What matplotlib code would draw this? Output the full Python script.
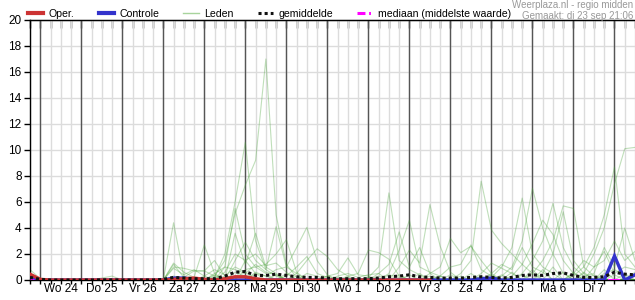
import numpy as np
import matplotlib
matplotlib.use("Agg")
import matplotlib.pyplot as plt
from matplotlib.lines import Line2D

plt.rcParams['font.family'] = ['Liberation Sans', 'DejaVu Sans']

# ----------------------
# Data: 6-hourly steps, starting di 23 sep 18:00 (index 0) up to wo 8 okt 12:00 (index 59)
# ----------------------
n_steps = 60
dagen = ["Wo 24", "Do 25", "Vr 26", "Za 27", "Zo 28", "Ma 29", "Di 30",
         "Wo 1", "Do 2", "Vr 3", "Za 4", "Zo 5", "Ma 6", "Di 7", ""]

# operationele run (stops after index 39)
oper = [0.45, 0.05, 0, 0, 0, 0, 0, 0, 0, 0, 0, 0, 0, 0, 0.05, 0.1, 0.15, 0.05, 0, 0.1,
        0.25, 0.25, 0.1, 0, 0, 0, 0, 0, 0, 0, 0, 0, 0, 0, 0, 0, 0, 0, 0, 0]

# controle run (sparse: index -> value)
controle = {0: 0.3, 14: 0.15, 15: 0.15, 16: 0.05, 44: 0.1, 45: 0.15, 57: 1.85, 59: 0.4}

# mediaan
mediaan = [0.0] * n_steps

# gemiddelde (ensemble mean)
gemiddelde = [0.2, 0.05, 0, 0, 0, 0, 0, 0.01, 0.01, 0, 0, 0, 0, 0.05, 0.2, 0.15, 0.1, 0.1, 0.1, 0.3,
              0.6, 0.65, 0.35, 0.35, 0.45, 0.35, 0.25, 0.2, 0.2, 0.15, 0.1, 0.1, 0.1, 0.1, 0.15, 0.25, 0.3, 0.4, 0.25, 0.2,
              0.15, 0.15, 0.15, 0.2, 0.25, 0.2, 0.15, 0.2, 0.35, 0.4, 0.35, 0.5, 0.55, 0.35, 0.2, 0.2, 0.25, 0.6, 0.45, 0.4]

# ensemble leden (sparse: index -> value, zero elsewhere)
leden = [
    {0: 0.8, 1: 0.1},
    {0: 0.5, 1: 0.05},
    {0: 0.35},
    {0: 0.25, 7: 0.15, 8: 0.3},
    {11: 0.05, 14: 0.3, 15: 0.1},
    {14: 4.4, 15: 0.3},
    {14: 1.3, 15: 0.6, 16: 0.2},
    {14: 1.2, 15: 0.2},
    {14: 1.0, 15: 0.9, 16: 0.7, 17: 0.7, 18: 0.3},
    {14: 0.9, 15: 0.4, 16: 0.8, 17: 0.3},
    {16: 0.2, 17: 2.7, 18: 0.5},
    {15: 0.2, 16: 0.7, 17: 0.7, 18: 1.5, 19: 0.3},
    {18: 0.2, 19: 2.0, 20: 6.0, 21: 10.6, 22: 3.0, 23: 0.8, 24: 0.3},
    {18: 0.3, 19: 1.5, 20: 5.1, 21: 7.3, 22: 9.2, 23: 17.0, 24: 5.0, 25: 1.2, 26: 0.2},
    {19: 1.0, 20: 5.5, 21: 2.0, 22: 1.0, 23: 0.5},
    {20: 3.6, 21: 1.2, 22: 3.6, 23: 1.0, 24: 0.5},
    {20: 1.5, 21: 2.9, 22: 1.5, 23: 0.8, 24: 4.1, 25: 1.0, 26: 0.5},
    {21: 0.8, 22: 1.0, 23: 1.2, 24: 2.0, 25: 3.1, 26: 0.6},
    {22: 0.5, 23: 0.3, 24: 0.8, 25: 1.0, 26: 2.5, 27: 4.05, 28: 1.5, 29: 0.4},
    {26: 0.5, 27: 1.5, 28: 2.4, 29: 1.8, 30: 0.8, 31: 0.3},
    {19: 0.6, 20: 2.0, 21: 1.5, 22: 2.0, 23: 1.1, 24: 1.3, 25: 0.6},
    {18: 0.5, 19: 1.0, 20: 0.8, 21: 0.5, 22: 1.2, 23: 0.6, 24: 0.4},
    {25: 0.3, 26: 1.0, 27: 1.8, 28: 0.5, 29: 0.2},
    {29: 0.3, 30: 0.5, 31: 1.7, 32: 0.4, 33: 0.3},
    {31: 0.3, 32: 0.5, 33: 2.3, 34: 2.1, 35: 1.6, 36: 0.3},
    {30: 0.3, 31: 0.5, 32: 0.2, 33: 0.4, 34: 0.5},
    {33: 0.2, 34: 1.0, 35: 6.7, 36: 1.5, 37: 0.8, 38: 0.4},
    {34: 0.5, 35: 1.2, 36: 3.7, 37: 1.0, 38: 2.5, 39: 0.5},
    {35: 0.5, 36: 2.3, 37: 4.6, 38: 1.0, 39: 0.6, 40: 0.3},
    {36: 1.0, 37: 2.3, 38: 1.3, 39: 5.8, 40: 2.6, 41: 0.6},
    {39: 0.5, 40: 1.0, 41: 3.2, 42: 2.1, 43: 2.6, 44: 1.5, 45: 0.5},
    {40: 0.3, 41: 1.0, 42: 1.2, 43: 2.7, 44: 0.8, 45: 0.3},
    {42: 0.5, 43: 1.5, 44: 7.6, 45: 3.85, 46: 2.8, 47: 2.0, 48: 1.2, 49: 0.5},
    {44: 0.5, 45: 1.3, 46: 0.9, 47: 0.5},
    {45: 0.2, 46: 1.0, 47: 2.5, 48: 6.3, 49: 2.0, 50: 1.0, 51: 0.5},
    {46: 0.3, 47: 1.0, 48: 3.0, 49: 7.05, 50: 4.0, 51: 2.0, 52: 0.5},
    {47: 0.3, 48: 1.2, 49: 2.8, 50: 4.6, 51: 3.5, 52: 1.5, 53: 0.5},
    {48: 0.5, 49: 1.5, 50: 3.0, 51: 5.9, 52: 2.5, 53: 1.0, 54: 0.3},
    {49: 0.5, 50: 1.5, 51: 3.0, 52: 5.7, 53: 5.5, 54: 1.0, 55: 0.3},
    {50: 0.5, 51: 2.0, 52: 5.25, 53: 1.5, 54: 0.5},
    {45: 0.5, 46: 1.2, 47: 0.8, 48: 2.5, 49: 1.0, 50: 0.6},
    {53: 0.3, 54: 1.0, 55: 2.5, 56: 5.0, 57: 8.7, 58: 2.0, 59: 1.0},
    {54: 0.5, 55: 2.0, 56: 4.0, 57: 7.4, 58: 10.1, 59: 10.2},
    {54: 0.3, 55: 0.5, 56: 2.5, 57: 1.0, 58: 4.0, 59: 1.5},
    {55: 1.0, 56: 1.5, 57: 3.0, 58: 1.5, 59: 2.2},
    {53: 0.5, 54: 1.5, 55: 1.0, 56: 2.2, 57: 0.5, 58: 1.0, 59: 0.8},
    {17: 0.3, 18: 0.8, 19: 0.4, 22: 0.6, 23: 0.3, 27: 0.5, 28: 0.3, 35: 0.4, 36: 0.2,
     44: 0.3, 48: 0.4, 52: 0.6, 56: 0.5, 57: 0.8, 58: 0.3},
    {20: 0.6, 21: 0.3, 25: 0.5, 30: 0.2, 34: 0.3, 38: 0.5, 41: 0.4, 46: 0.4, 50: 0.8,
     54: 0.6, 57: 0.4, 59: 0.6},
    {19: 0.3, 20: 1.0, 21: 0.6, 24: 0.4, 29: 0.3, 33: 0.2, 37: 0.4, 40: 0.3, 43: 0.5,
     47: 0.6, 51: 1.0, 55: 0.4, 58: 0.5},
    {18: 0.4, 21: 1.5, 22: 0.5, 26: 0.3, 31: 0.2, 36: 0.4, 39: 0.3, 42: 0.3, 45: 0.4,
     49: 0.8, 53: 0.6, 56: 0.8, 59: 0.3},
]


def uitpakken(sparse):
    reeks = np.zeros(n_steps)
    for i, v in sparse.items():
        reeks[i] = v
    return reeks


t = np.arange(n_steps)

# ----------------------
# Figure
# ----------------------
fig = plt.figure(figsize=(6.35, 3.0), dpi=100)
ax = fig.add_axes([30 / 635, 20 / 300, 605 / 635, 260 / 300])

ax.set_xlim(0, n_steps - 1)
ax.set_ylim(0, 20)

# grid: light every 6 hours and every 2 mm, dark at midnight
ax.set_xticks(t)
ax.set_yticks(np.arange(0, 21, 2))
ax.grid(True, axis='both', color='#dcdcdc', linewidth=1.0, zorder=0)
ax.set_axisbelow(True)
middernacht = [1 + 4 * d for d in range(len(dagen))]
ax.vlines(middernacht, 0, 20, colors='#555555', linewidth=1.0, zorder=0.8)

ax.tick_params(axis='x', direction='out', length=3, width=1, labelbottom=False)
ax.tick_params(axis='y', direction='out', length=4, width=1, labelsize=8.5, pad=2)
for lbl, d in zip(dagen, range(len(dagen))):
    ax.text(3 + 4 * d, -0.012, lbl, transform=ax.get_xaxis_transform(),
            ha='center', va='top', fontsize=8.5)

# ticks hanging down from the top border
top = ax.secondary_xaxis('top')
top.set_xticks(t)
top.tick_params(direction='in', length=6, width=1, labeltop=False)

ax.spines['right'].set_visible(False)
for s in ['left', 'bottom', 'top']:
    ax.spines[s].set_color('black')
    ax.spines[s].set_linewidth(1.0)

# ensemble members
for lid in leden:
    ax.plot(t, uitpakken(lid), color='#4aa33a', alpha=0.35, linewidth=0.8, zorder=2)

ax.plot(t, mediaan, color='#ff00ff', linewidth=2.2, linestyle=(0, (4, 2, 1, 2)), zorder=3)
ax.plot(t, uitpakken(controle), color='#3333cc', linewidth=2.4, zorder=4,
        solid_joinstyle='miter')
ax.plot(t[:len(oper)], oper, color='#cc3333', linewidth=2.4, zorder=5)
ax.plot(t, gemiddelde, color='#111111', linewidth=2.2, linestyle=(0, (1, 1)), zorder=6)

# legend
handles = [
    Line2D([], [], color='#cc3333', linewidth=3),
    Line2D([], [], color='#3333cc', linewidth=3),
    Line2D([], [], color='#a8d49c', linewidth=1),
    Line2D([], [], color='#111111', linewidth=2.2, linestyle=(0, (1, 1))),
    Line2D([], [], color='#ff00ff', linewidth=2.2, linestyle=(0, (2.6, 1.2, 0.6, 1.2))),
]
labels = ["Oper.", "Controle", "Leden", "gemiddelde", "mediaan (middelste waarde)"]
fig.legend(handles, labels, loc='center left', bbox_to_anchor=(28 / 635, 1 - 14 / 300),
           ncol=5, frameon=False, fontsize=7.6, handlelength=1.45, handletextpad=0.5,
           columnspacing=2.3, borderpad=0, borderaxespad=0)

fig.text(633 / 635, 1 - 5 / 300, "Weerplaza.nl - regio midden", ha='right', va='center',
         fontsize=7, color='#999999')
fig.text(633 / 635, 1 - 16 / 300, "Gemaakt: di 23 sep 21:06", ha='right', va='center',
         fontsize=7, color='#999999')

fig.savefig("out.png", dpi=100)
